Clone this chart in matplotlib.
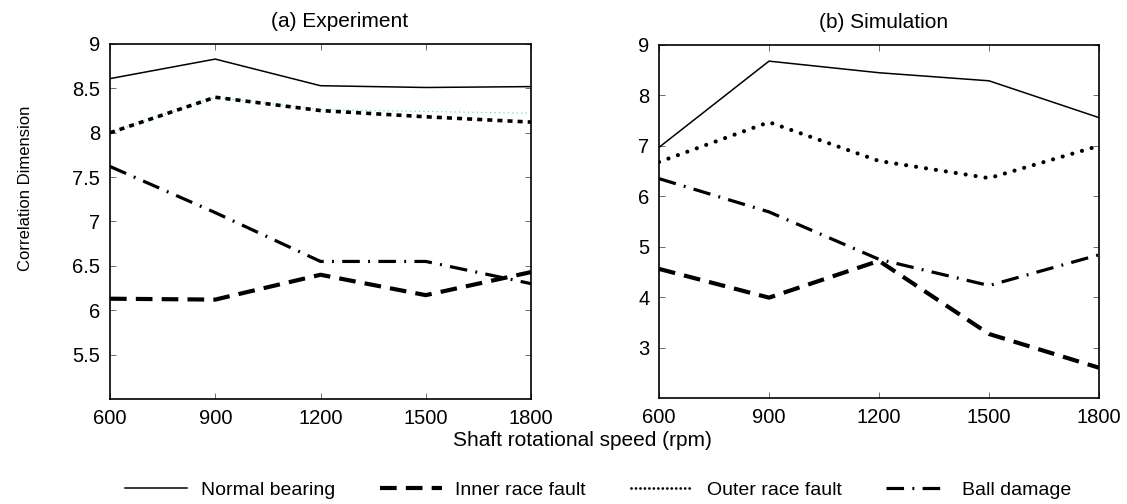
import matplotlib
matplotlib.use("Agg")
import matplotlib.pyplot as plt
from matplotlib.lines import Line2D

plt.rcParams['font.family'] = ['Liberation Sans', 'DejaVu Sans']

speeds = [600, 900, 1200, 1500, 1800]

exp_normal = [8.61, 8.83, 8.53, 8.51, 8.52]
exp_inner = [6.13, 6.12, 6.40, 6.17, 6.43]
exp_outer = [8.00, 8.40, 8.25, 8.18, 8.12]
exp_outer_ghost = [8.00, 8.40, 8.26, 8.24, 8.22]
exp_ball = [7.62, 7.10, 6.55, 6.55, 6.30]

sim_normal = [6.97, 8.68, 8.45, 8.29, 7.56]
sim_inner = [4.56, 3.99, 4.72, 3.27, 2.60]
sim_outer = [6.68, 7.47, 6.70, 6.36, 7.00]
sim_ball = [6.35, 5.69, 4.75, 4.23, 4.84]

exp_yticks = [5.5, 6, 6.5, 7, 7.5, 8, 8.5, 9]
exp_yticklabels = ['5.5', '6', '6.5', '7', '7.5', '8', '8.5', '9']
sim_yticks = [3, 4, 5, 6, 7, 8, 9]

W, H = 1127, 504
fig = plt.figure(figsize=(W / 100, H / 100), dpi=100)

def add_axes(x0, x1, y0, y1):
    return fig.add_axes([x0 / W, 1 - y1 / H, (x1 - x0) / W, (y1 - y0) / H])

ax1 = add_axes(110, 531, 44, 399)
ax2 = add_axes(659, 1099, 45, 398)

normal_style = dict(color='black', lw=1.1, ls='-')
inner_style = dict(color='black', lw=3.0, ls=(0, (4, 2.2)))
ball_style = dict(color='black', lw=2.3, ls=(0, (5.5, 2.6, 0.6, 2.6)))
outer_left = dict(color='black', lw=2.6, ls=(0, (1.4, 1.4)), dash_capstyle='butt')
outer_right = dict(color='black', lw=3.0, ls=(0, (0.01, 2.4)), dash_capstyle='round')
outer_legend = dict(color='black', lw=2.0, ls=(0, (0.01, 1.6)), dash_capstyle='round')

ax1.plot(speeds, exp_outer_ghost, color='#22dddd', lw=0.8, ls=(0, (1, 3)))
ax1.plot(speeds, exp_normal, **normal_style)
ax1.plot(speeds, exp_inner, **inner_style)
ax1.plot(speeds, exp_outer, **outer_left)
ax1.plot(speeds, exp_ball, **ball_style)

ax2.plot(speeds, sim_normal, **normal_style)
ax2.plot(speeds, sim_inner, **inner_style)
ax2.plot(speeds, sim_outer, **outer_right)
ax2.plot(speeds, sim_ball, **ball_style)

ax1.set_ylim(5, 9)
ax1.set_yticks(exp_yticks)
ax1.set_yticklabels(exp_yticklabels)
ax2.set_ylim(2, 9)
ax2.set_yticks(sim_yticks)

for ax, title, tx in [(ax1, '(a) Experiment', 0.546), (ax2, '(b) Simulation', 0.51)]:
    ax.set_xlim(600, 1800)
    ax.set_xticks(speeds)
    ax.tick_params(direction='in', length=4, width=0.6, labelsize=14.5,
                   top=True, right=True, color='#555555', pad=7)
    for s in ax.spines.values():
        s.set_linewidth(1.2)
    ax.set_title(title, fontsize=15, pad=12, x=tx)

fig.text(26 / W, 1 - 188 / H, 'Correlation Dimension', rotation=90,
         ha='center', va='center', fontsize=12)
fig.text(582 / W, 1 - 441 / H, 'Shaft rotational speed (rpm)',
         ha='center', va='center', fontsize=15)

handles = [Line2D([], [], **normal_style),
           Line2D([], [], **inner_style),
           Line2D([], [], **outer_legend),
           Line2D([], [], **ball_style)]
labels = ['Normal bearing', 'Inner race fault', 'Outer race fault', 'Ball damage']
fig.legend(handles, labels, loc='center', bbox_to_anchor=(598 / W, 1 - 490 / H),
           ncol=4, frameon=False, fontsize=14, handlelength=3.2,
           columnspacing=2.3, handletextpad=0.7)

fig.savefig('out.png', dpi=100)
